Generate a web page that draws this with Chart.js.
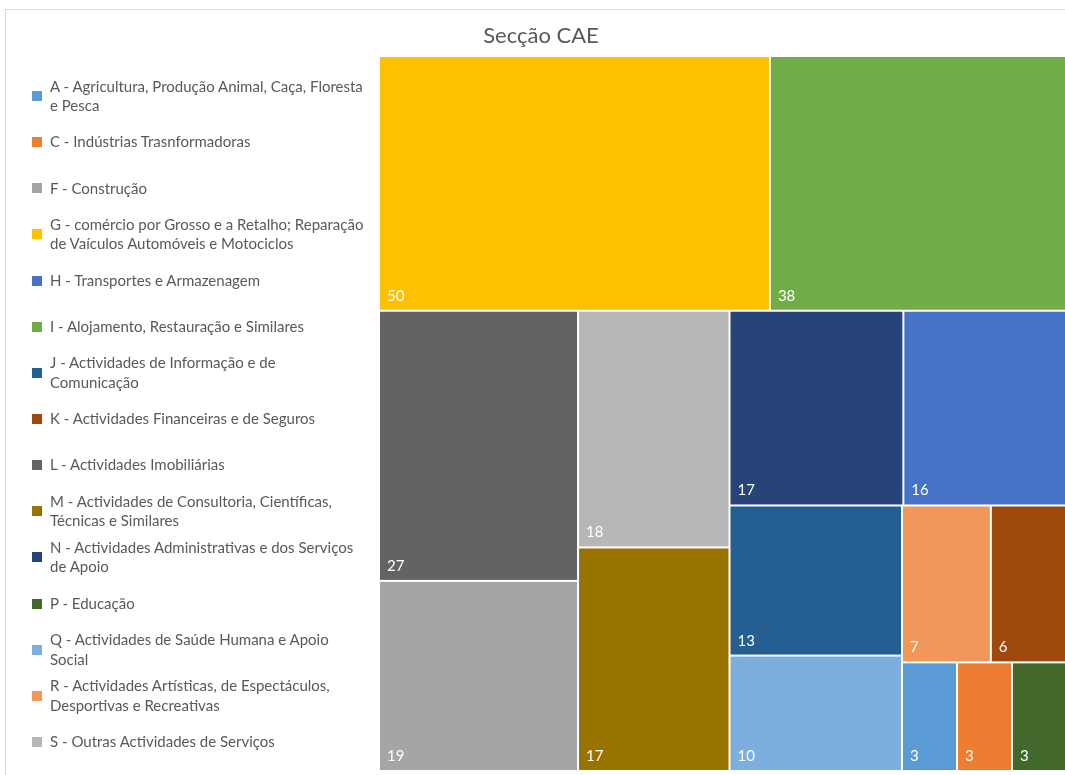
<!DOCTYPE html>
<html>
<head>
<meta charset="utf-8">
<script src="https://cdn.jsdelivr.net/npm/chart.js@4.4.1/dist/chart.umd.min.js"></script>
<style>
  html, body { margin: 0; padding: 0; background: #ffffff; width: 1065px; height: 775px; overflow: hidden; }
  #frame { position: absolute; left: 5px; top: 9px; width: 1200px; height: 900px;
           border-left: 1px solid #d9d9d9; border-top: 1px solid #d9d9d9; }
  #title { position: absolute; left: 341px; top: 21px; width: 400px; text-align: center;
           font-family: Lato, "Open Sans", sans-serif; font-size: 22px; color: #595959; }
  #chartBox { position: absolute; left: 0; top: 0; width: 1068px; height: 775px; }
  #legend { position: absolute; left: 0; top: 73px; width: 376px; height: 692px;
            display: flex; flex-direction: column; }
  .item { flex: 1 1 0; display: flex; align-items: center; position: relative; }
  .sw { position: absolute; left: 32px; top: 50%; margin-top: -5px; width: 10px; height: 10px; }
  .tx { margin-left: 50px; white-space: pre-line; font-family: Lato, "Open Sans", sans-serif;
        font-size: 15px; line-height: 19.5px; color: #595959; }
</style>
</head>
<body>
<div id="frame"></div>
<div id="chartBox"><canvas id="c" width="1068" height="775"></canvas></div>
<div id="title">Secção CAE</div>
<div id="legend"></div>
<script>
// ---- data ----
const categories = [
  "A - Agricultura, Produção Animal, Caça, Floresta\ne Pesca",
  "C - Indústrias Trasnformadoras",
  "F - Construção",
  "G - comércio por Grosso e a Retalho; Reparação\nde Vaículos Automóveis e Motociclos",
  "H - Transportes e Armazenagem",
  "I - Alojamento, Restauração e Similares",
  "J - Actividades de Informação e de\nComunicação",
  "K - Actividades Financeiras e de Seguros",
  "L - Actividades Imobiliárias",
  "M - Actividades de Consultoria, Científicas,\nTécnicas e Similares",
  "N - Actividades Administrativas e dos Serviços\nde Apoio",
  "P - Educação",
  "Q - Actividades de Saúde Humana e Apoio\nSocial",
  "R - Actividades Artísticas, de Espectáculos,\nDesportivas e Recreativas",
  "S - Outras Actividades de Serviços"
];
const values = [3, 3, 19, 50, 16, 38, 13, 6, 27, 17, 17, 3, 10, 7, 18];
const colors = ["#5B9BD5", "#ED7D31", "#A5A5A5", "#FFC000", "#4472C4", "#70AD47", "#255E91",
                "#9E480E", "#636363", "#997300", "#264478", "#43682B", "#7CAFDD", "#F1975A", "#B7B7B7"];
const chartTitle = "Secção CAE";

// ---- squarified treemap layout (Excel-like aspect weighting) ----
const ASPECT_BIAS = 1.035;
function squarify(vals, W, H) {
  const total = vals.reduce((s, o) => s + o.v, 0);
  const k = W * H / total;
  let items = vals.map(o => Object.assign({}, o, { a: o.v * k }));
  let x = 0, y = 0, w = W, h = H;
  const out = [];
  const worst = (row, len, horiz) => {
    const sum = row.reduce((s, o) => s + o.a, 0);
    const t = sum / len;
    let m = 0;
    for (const o of row) {
      const along = o.a / t;
      const r = horiz ? ASPECT_BIAS * along / t : ASPECT_BIAS * t / along;
      m = Math.max(m, r, 1 / r);
    }
    return m;
  };
  while (items.length) {
    const horiz = w * ASPECT_BIAS <= h;
    const len = horiz ? w : h;
    let row = [items[0]];
    let i = 1;
    while (i < items.length) {
      const cand = row.concat([items[i]]);
      if (worst(cand, len, horiz) <= worst(row, len, horiz)) { row = cand; i++; } else break;
    }
    items = items.slice(row.length);
    const t = row.reduce((s, o) => s + o.a, 0) / len;
    let off = 0;
    for (const o of row) {
      const along = o.a / t;
      if (horiz) out.push(Object.assign({}, o, { x0: x + off, y0: y, x1: x + off + along, y1: y + t }));
      else out.push(Object.assign({}, o, { x0: x, y0: y + off, x1: x + t, y1: y + off + along }));
      off += along;
    }
    if (horiz) { y += t; h -= t; } else { x += t; w -= t; }
  }
  return out;
}

const treemapPlugin = {
  id: 'treemapCells',
  afterDatasetsDraw(chart) {
    const ds = chart.data.datasets[0];
    const xs = chart.scales.x, ys = chart.scales.y;
    const area = chart.chartArea;
    const W = area.right - area.left, H = area.bottom - area.top;
    const order = ds.tree.map((v, i) => ({ v, i }))
      .sort((a, b) => (b.v - a.v) || (a.i - b.i));
    const rects = squarify(order, W, H);
    const ctx = chart.ctx;
    ctx.save();
    for (const r of rects) {
      const px0 = xs.getPixelForValue(r.x0 / W * 100);
      const px1 = xs.getPixelForValue(r.x1 / W * 100);
      const py0 = ys.getPixelForValue(r.y0 / H * 100);
      const py1 = ys.getPixelForValue(r.y1 / H * 100);
      ctx.fillStyle = ds.backgroundColor[r.i];
      ctx.fillRect(px0 + 1, py0 + 1, px1 - px0 - 2, py1 - py0 - 2);
      ctx.fillStyle = '#ffffff';
      ctx.font = '15px Lato, "Open Sans", sans-serif';
      ctx.textBaseline = 'alphabetic';
      ctx.textAlign = 'left';
      ctx.fillText(String(r.v), px0 + 8, py1 - 10);
    }
    ctx.restore();
  }
};

const htmlLegendPlugin = {
  id: 'htmlLegend',
  afterUpdate(chart) {
    const box = document.getElementById('legend');
    box.innerHTML = '';
    chart.data.labels.forEach((lab, i) => {
      const it = document.createElement('div'); it.className = 'item';
      const sw = document.createElement('span'); sw.className = 'sw';
      sw.style.background = chart.data.datasets[0].backgroundColor[i];
      const tx = document.createElement('span'); tx.className = 'tx'; tx.textContent = lab;
      it.appendChild(sw); it.appendChild(tx); box.appendChild(it);
    });
  }
};

document.getElementById('title').textContent = chartTitle;

new Chart(document.getElementById('c'), {
  type: 'scatter',
  data: {
    labels: categories,
    datasets: [{ label: chartTitle, data: [], tree: values, backgroundColor: colors }]
  },
  options: {
    responsive: false,
    animation: false,
    events: [],
    layout: { padding: { left: 379, top: 56, right: 1, bottom: 4 } },
    plugins: { legend: { display: false }, title: { display: false }, tooltip: { enabled: false } },
    scales: {
      x: { type: 'linear', min: 0, max: 100, display: false },
      y: { type: 'linear', min: 0, max: 100, reverse: true, display: false }
    }
  },
  plugins: [treemapPlugin, htmlLegendPlugin]
});
</script>
</body>
</html>
